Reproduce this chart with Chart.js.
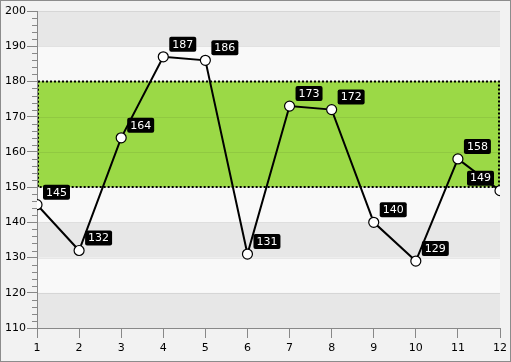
<!DOCTYPE html>
<html><head><meta charset="utf-8">
<script src="https://cdn.jsdelivr.net/npm/chart.js@4"></script>
<style>html,body{margin:0;padding:0;background:#f2f2f2}canvas{display:block}</style>
</head><body>
<canvas id="c" width="511" height="362"></canvas>
<script>
const categories = [1,2,3,4,5,6,7,8,9,10,11,12];
const values = [145,132,164,187,186,131,173,172,140,129,158,149];
const yTicks = [110,120,130,140,150,160,170,180,190,200];
const rangeLow = 150, rangeHigh = 180;
const FONT = '11px "DejaVu Sans", Verdana, sans-serif';

const bgPlugin = {
  id:'bg',
  beforeDraw(chart){
    const {ctx, chartArea:a, scales:{x,y}} = chart;
    ctx.save();
    ctx.fillStyle='#f2f2f2'; ctx.fillRect(0,0,chart.width,chart.height);
    ctx.strokeStyle='#8c8c8c'; ctx.lineWidth=1; ctx.strokeRect(0.5,0.5,chart.width-1,chart.height-1);
    for(let i=0;i<yTicks.length-1;i++){
      const t=y.getPixelForValue(yTicks[i+1]), b=y.getPixelForValue(yTicks[i]);
      ctx.fillStyle = (i%2===0)?'#e7e7e7':'#f9f9f9';
      ctx.fillRect(a.left,t,a.right-a.left,b-t);
    }
    const gt=y.getPixelForValue(rangeHigh), gb=y.getPixelForValue(rangeLow);
    ctx.fillStyle='#9bd946'; ctx.fillRect(a.left,gt,a.right-a.left,gb-gt);
    ctx.strokeStyle='rgba(0,0,0,0.07)'; ctx.lineWidth=1;
    yTicks.forEach(v=>{const p=Math.round(y.getPixelForValue(v))+0.5;ctx.beginPath();ctx.moveTo(a.left,p);ctx.lineTo(a.right,p);ctx.stroke();});
    ctx.strokeStyle='#000'; ctx.lineWidth=2; ctx.setLineDash([2,2]);
    ctx.strokeRect(a.left+1,gt,a.right-a.left-2,gb-gt);
    ctx.setLineDash([]);
    ctx.strokeStyle='#888'; ctx.lineWidth=1;
    for(let v=110; v<=200; v+=2){
      if(v%10===0) continue;
      const p=Math.round(y.getPixelForValue(v))+0.5;
      ctx.beginPath();ctx.moveTo(a.left-5,p);ctx.lineTo(a.left,p);ctx.stroke();
    }
    ctx.restore();
  },
  afterDatasetsDraw(chart){
    const {ctx, chartArea:a} = chart;
    const meta = chart.getDatasetMeta(0);
    ctx.save();
    ctx.font=FONT; ctx.textBaseline='middle'; ctx.textAlign='center';
    meta.data.forEach((pt,i)=>{
      const txt=String(values[i]);
      const w=ctx.measureText(txt).width+6, h=15;
      let left=pt.x+6;
      if(left+w>a.right) left=pt.x-6-w;
      const top=pt.y-5-h;
      ctx.fillStyle='#000';
      ctx.beginPath();
      if(ctx.roundRect) ctx.roundRect(left,top,w,h,2); else ctx.rect(left,top,w,h);
      ctx.fill();
      ctx.fillStyle='#fff';
      ctx.fillText(txt,left+w/2,top+h/2+0.5);
    });
    ctx.restore();
  }
};

new Chart(document.getElementById('c'),{
  type:'line',
  data:{ labels:categories, datasets:[{
    data: categories.map((c,i)=>({x:c,y:values[i]})),
    borderColor:'#000', borderWidth:2, tension:0,
    pointRadius:5, pointHoverRadius:5, pointBackgroundColor:'#fff', pointBorderColor:'#000', pointBorderWidth:1.2,
    clip:0
  }]},
  options:{
    responsive:false, animation:false, events:[],
    layout:{padding:{top:11,right:11,left:0,bottom:0}},
    plugins:{legend:{display:false},tooltip:{enabled:false}},
    scales:{
      x:{type:'linear',min:1,max:12,
        afterFit(s){s.height=34;},
        ticks:{stepSize:1,color:'#000',font:{family:'"DejaVu Sans", Verdana, sans-serif',size:11},padding:4},
        grid:{drawOnChartArea:false,drawTicks:true,tickLength:10,color:'#888'},
        border:{color:'#888'}},
      y:{type:'linear',min:110,max:200,
        afterFit(s){s.width=37;},
        ticks:{stepSize:10,color:'#000',font:{family:'"DejaVu Sans", Verdana, sans-serif',size:11},padding:1},
        grid:{drawOnChartArea:false,drawTicks:true,tickLength:10,color:'#888'},
        border:{color:'#888'}}
    }
  },
  plugins:[bgPlugin]
});
</script>
</body></html>
